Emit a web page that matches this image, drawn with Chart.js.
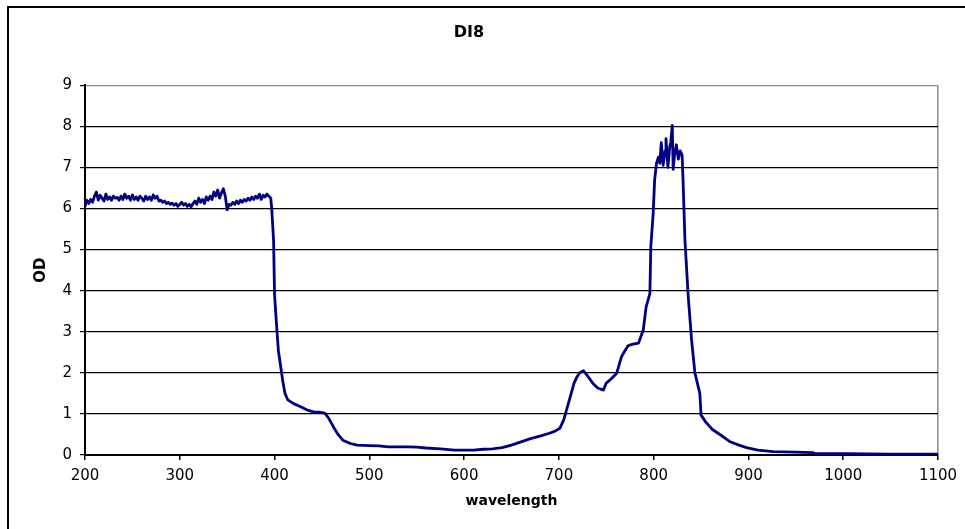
<!DOCTYPE html>
<html>
<head>
<meta charset="utf-8">
<title>DI8</title>
<script src="https://cdn.jsdelivr.net/npm/chart.js@4/dist/chart.umd.min.js"></script>
<style>
  html, body { margin: 0; padding: 0; background: #fff; overflow: hidden; }
  #frame {
    position: absolute; left: 7px; top: 6px;
    width: 1000px; height: 1000px;
    border-left: 2px solid #000; border-top: 2px solid #000;
  }
  #wrap { position: absolute; left: 0; top: 0; width: 965px; height: 529px; }
</style>
</head>
<body>
<div id="frame"></div>
<div id="wrap"><canvas id="odChart" width="965" height="529"></canvas></div>
<script>
// Values
const chartTitle = 'DI8';
const xAxisLabel = 'wavelength';
const yAxisLabel = 'OD';
const xRange = [200, 1100];
const yRange = [0, 9];

const wavelengths = [
  200, 202, 204, 206, 208, 210, 212, 214, 216, 218, 220, 222, 224, 226, 228, 230,
  232, 234, 236, 238, 240, 242, 244, 246, 248, 250, 252, 254, 256, 258, 260, 262,
  264, 266, 268, 270, 272, 274, 276, 278, 280, 282, 284, 286, 288, 290, 292, 294,
  296, 298, 300, 302, 304, 306, 308, 310, 312, 314, 316, 318, 320, 322, 324, 326,
  328, 330, 332, 334, 336, 338, 340, 342, 344, 346, 348, 350, 352, 354, 356, 358,
  360, 362, 364, 366, 368, 370, 372, 374, 376, 378, 380, 382, 384, 386, 388, 390,
  392, 394, 396, 397, 399, 400, 402, 404, 407, 409, 411, 414, 420, 427, 434, 441,
  448, 453, 457, 462, 467, 472, 480, 487, 500, 510, 520, 540, 550, 560, 575, 590,
  610, 620, 630, 640, 650, 660, 670, 680, 690, 696, 701, 705, 708, 713, 716, 719,
  722, 726, 731, 736, 741, 747, 750, 755, 761, 766, 770, 773, 778, 784, 789, 792,
  796, 797, 799.5, 801, 803, 805, 806.5, 808, 810, 812, 813, 815, 817, 818, 819.6, 820.6,
  822, 824, 826, 828, 830, 831, 833, 836.5, 840, 843.5, 848.7, 850, 855, 862, 873, 880,
  890, 898, 910, 926, 950, 968, 970, 1000, 1050, 1100
];

const odValues = [
  6.05, 6.2, 6.12, 6.22, 6.15, 6.3, 6.4, 6.2, 6.32, 6.25, 6.18, 6.35, 6.22, 6.28, 6.2, 6.3,
  6.25, 6.27, 6.2, 6.3, 6.22, 6.35, 6.25, 6.3, 6.2, 6.33, 6.22, 6.28, 6.2, 6.3, 6.25, 6.18,
  6.3, 6.22, 6.28, 6.2, 6.33, 6.25, 6.3, 6.18, 6.2, 6.15, 6.18, 6.12, 6.15, 6.1, 6.13, 6.08,
  6.12, 6.05, 6.1, 6.15, 6.08, 6.12, 6.05, 6.1, 6.04, 6.12, 6.18, 6.1, 6.25, 6.15, 6.22, 6.12,
  6.28, 6.2, 6.3, 6.22, 6.4, 6.3, 6.45, 6.25, 6.38, 6.48, 6.3, 5.97, 6.1, 6.08, 6.15, 6.1,
  6.18, 6.12, 6.2, 6.15, 6.22, 6.18, 6.25, 6.2, 6.28, 6.22, 6.3, 6.25, 6.35, 6.22, 6.32, 6.28,
  6.35, 6.3, 6.25, 6.0, 5.2, 3.9, 3.2, 2.55, 2.07, 1.75, 1.5, 1.34, 1.25, 1.18, 1.1, 1.05,
  1.04, 1.02, 0.9, 0.69, 0.5, 0.36, 0.28, 0.24, 0.23, 0.22, 0.2, 0.2, 0.19, 0.17, 0.15, 0.12,
  0.12, 0.14, 0.15, 0.18, 0.24, 0.32, 0.4, 0.46, 0.53, 0.58, 0.65, 0.85, 1.09, 1.5, 1.75, 1.9,
  2.0, 2.05, 1.9, 1.74, 1.63, 1.58, 1.75, 1.85, 1.99, 2.39, 2.55, 2.66, 2.7, 2.72, 3.04, 3.6,
  3.93, 5.07, 5.88, 6.69, 7.1, 7.25, 7.1, 7.6, 7.05, 7.4, 7.7, 7.0, 7.5, 7.6, 8.02, 6.95,
  7.3, 7.55, 7.2, 7.4, 7.3, 6.69, 5.23, 3.85, 2.8, 2.0, 1.5, 0.97, 0.8, 0.62, 0.45, 0.33,
  0.24, 0.18, 0.12, 0.08, 0.07, 0.06, 0.03, 0.03, 0.02, 0.02
];

const points = wavelengths.map(function (w, i) { return { x: w, y: odValues[i] }; });

const tickFont = { family: 'DejaVu Sans', size: 15 };

new Chart(document.getElementById('odChart'), {
  type: 'line',
  data: {
    datasets: [{
      label: chartTitle,
      data: points,
      borderColor: '#000080',
      borderWidth: 2.8,
      borderJoinStyle: 'round',
      borderCapStyle: 'round',
      pointRadius: 0,
      tension: 0,
      fill: false
    }]
  },
  options: {
    responsive: false,
    animation: false,
    devicePixelRatio: 1,
    layout: { padding: { left: 0, right: 27, top: 0, bottom: 0 } },
    plugins: {
      legend: { display: false },
      tooltip: { enabled: false },
      title: {
        display: true,
        text: chartTitle,
        color: '#000',
        font: { family: 'DejaVu Sans', size: 16, weight: 'bold' },
        padding: { top: 23, bottom: 43 }
      }
    },
    scales: {
      x: {
        type: 'linear',
        min: xRange[0],
        max: xRange[1],
        afterFit: function (scale) { scale.height = 74; },
        ticks: {
          stepSize: 100, color: '#000', font: tickFont, padding: 7, maxRotation: 0,
          callback: function (v) { return String(v); }
        },
        grid: {
          drawOnChartArea: true,
          color: function (ctx) { return ctx.tick && ctx.tick.value === xRange[1] ? '#8c8c8c' : 'rgba(0,0,0,0)'; },
          tickColor: '#000',
          tickLength: 5,
          lineWidth: 1.5
        },
        border: { color: '#000', width: 2 },
        title: {
          display: true,
          text: xAxisLabel,
          color: '#000',
          font: { family: 'DejaVu Sans', size: 14, weight: 'bold' },
          padding: { top: 0, bottom: 19 }
        }
      },
      y: {
        min: yRange[0],
        max: yRange[1],
        afterFit: function (scale) { scale.width = 85; },
        ticks: { stepSize: 1, color: '#000', font: tickFont, padding: 8 },
        grid: {
          color: function (ctx) { return ctx.tick && ctx.tick.value === yRange[1] ? '#8c8c8c' : '#000'; },
          tickColor: '#000',
          tickLength: 5,
          lineWidth: 1.2
        },
        border: { color: '#000', width: 2 },
        title: {
          display: true,
          text: yAxisLabel,
          color: '#000',
          font: { family: 'DejaVu Sans', size: 15, weight: 'bold' },
          padding: { top: 32, bottom: 0 }
        }
      }
    }
  }
});
</script>
</body>
</html>
